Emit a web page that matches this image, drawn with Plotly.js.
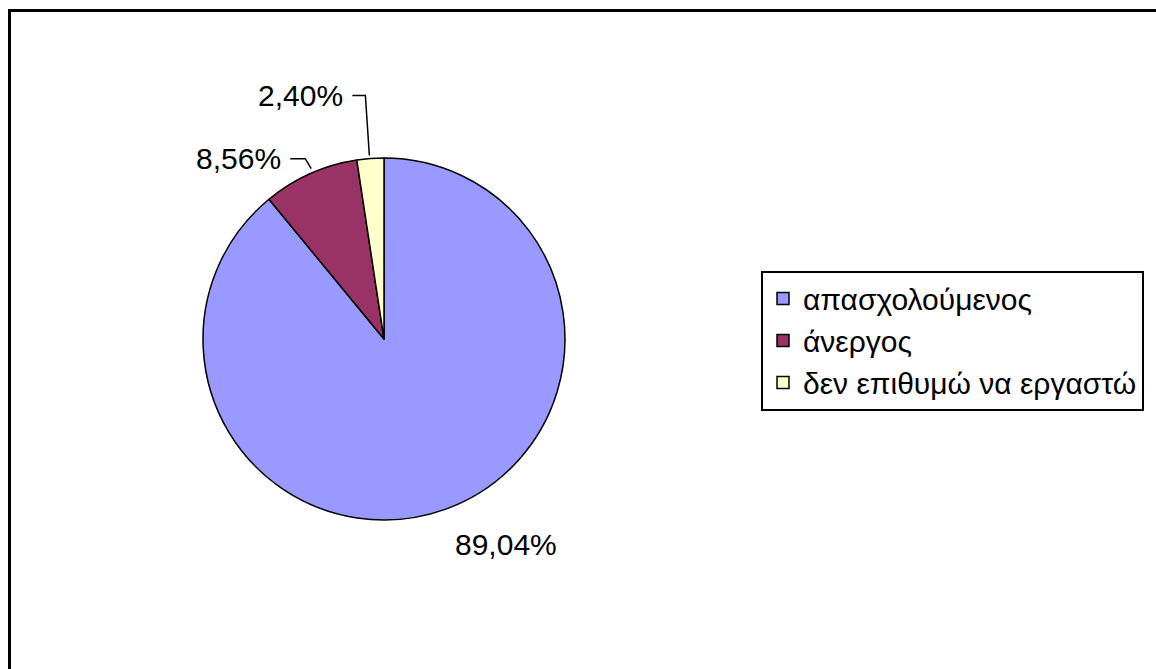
<!DOCTYPE html>
<html>
<head>
<meta charset="utf-8">
<script src="https://cdn.plot.ly/plotly-3.0.1.min.js"></script>
<style>html,body{margin:0;padding:0;background:#fff;}#chart{width:1156px;height:669px;}</style>
</head>
<body>
<div id="chart"></div>
<script>
const categories = ["απασχολούμενος", "άνεργος", "δεν επιθυμώ να εργαστώ"];
const values = [89.04, 8.56, 2.40];
const colors = ["#9999FF", "#993366", "#FFFFCC"];

const W = 1156, H = 669;
const cx = 384, cy = 339, r = 181;
const FONT = "Liberation Sans, Arial, sans-serif";

// label placement styling (pixel offsets from slice edge midpoint)
const labelStyle = [
  { dx: 61, dy: 35, leader: false },
  { dx: -27, dy: -15, leader: true, elbow: [-5, -15], end: [1, -5] },
  { dx: -25, dy: -63, leader: true, elbow: [-5, -63], end: [-1, -3] }
];

const total = values.reduce((a, b) => a + b, 0);
const fmt = v => (v / total * 100).toFixed(2).replace(".", ",") + "%";

const px = x => x / W;
const py = y => 1 - y / H;

const annotations = [];
const shapes = [{
  type: "rect", xref: "paper", yref: "paper",
  x0: px(9.5), y0: py(10.5), x1: 1.05, y1: -0.05,
  line: { color: "#000", width: 3 }, fillcolor: "rgba(0,0,0,0)"
}];

let cum = 0;
values.forEach((v, i) => {
  const mid = (cum + v / 2) / total * 2 * Math.PI;
  cum += v;
  const ex = cx + r * Math.sin(mid);
  const ey = cy - r * Math.cos(mid);
  const s = labelStyle[i];
  const lx = ex + s.dx, ly = ey + s.dy;
  annotations.push({
    xref: "paper", yref: "paper",
    x: px(lx), y: py(ly),
    xanchor: s.leader ? "right" : "center", yanchor: "middle",
    text: fmt(v), showarrow: false,
    font: { family: FONT, size: 30, color: "#000" }
  });
  if (s.leader) {
    const bx = ex + s.elbow[0], by = ey + s.elbow[1];
    const tx = lx + 7;
    const endx = ex + s.end[0], endy = ey + s.end[1];
    shapes.push({
      type: "path", xref: "paper", yref: "paper",
      path: `M ${px(tx)} ${py(ly)} L ${px(bx)} ${py(ly)} L ${px(endx)} ${py(endy)}`,
      line: { color: "#000", width: 1.5 }
    });
  }
});

const trace = {
  type: "pie",
  labels: categories,
  values: values,
  sort: false,
  direction: "clockwise",
  rotation: 0,
  marker: { colors: colors, line: { color: "#000", width: 1.5 } },
  textinfo: "none",
  hoverinfo: "label+percent",
  domain: { x: [px(cx - r), px(cx + r)], y: [py(cy + r), py(cy - r)] },
  automargin: false
};

const layout = {
  width: W, height: H,
  margin: { l: 0, r: 0, t: 0, b: 0 },
  paper_bgcolor: "#fff",
  separators: ",.",
  showlegend: true,
  legend: {
    x: px(761), y: py(340.5), xanchor: "left", yanchor: "middle",
    bordercolor: "#000", borderwidth: 2, bgcolor: "#fff",
    font: { family: FONT, size: 30, color: "#000" },
    traceorder: "normal"
  },
  annotations: annotations,
  shapes: shapes
};

Plotly.newPlot("chart", [trace], layout, { displayModeBar: false, staticPlot: true });
</script>
</body>
</html>
